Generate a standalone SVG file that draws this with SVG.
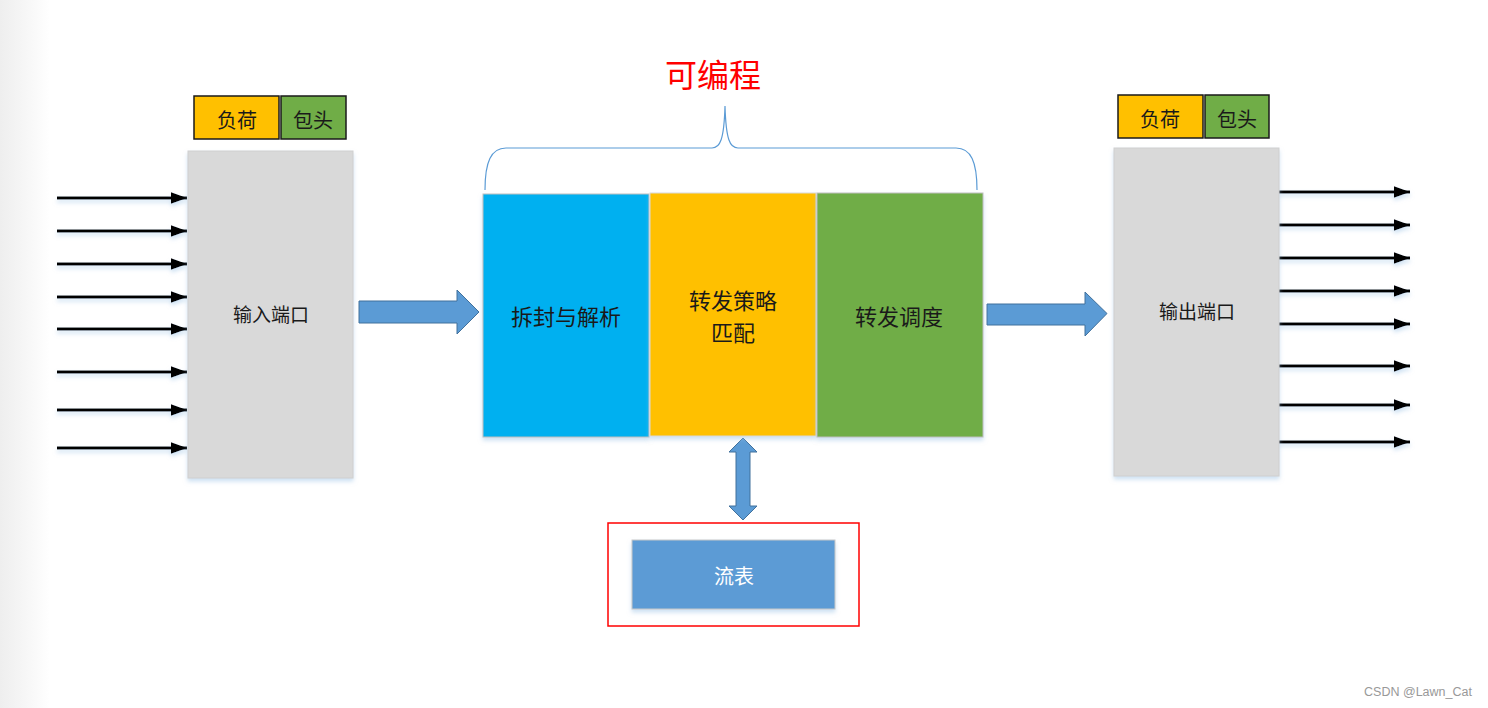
<svg xmlns="http://www.w3.org/2000/svg" width="1488" height="708" viewBox="0 0 1488 708">
<style>
  text { font-family: "Noto Sans CJK SC", "Liberation Sans", sans-serif; text-anchor: middle; dominant-baseline: central; }
  .lbl { font-size: 20px; fill: #1a1a1a; }
  .big { font-size: 22px; fill: #1a1a1a; }
  .port { fill: #d9d9d9; stroke: #cfcfcf; stroke-width: 1; }
  .tag { stroke: #1a1a1a; stroke-width: 1.5; }
  .line { stroke: #000; stroke-width: 3.2; fill: none; marker-end: url(#ah); }
  .blk { fill: #5b9bd5; stroke: #41719c; stroke-width: 1; }
</style>
<defs>
  <linearGradient id="edge" x1="0" y1="0" x2="1" y2="0">
    <stop offset="0" stop-color="#eeeeee"/>
    <stop offset="0.6" stop-color="#f8f8f8"/>
    <stop offset="1" stop-color="#ffffff"/>
  </linearGradient>
  <marker id="ah" viewBox="0 0 10 10" refX="10" refY="5" markerWidth="5" markerHeight="3.6" orient="auto" markerUnits="strokeWidth" preserveAspectRatio="none">
    <path d="M0,0 L10,5 L0,10 z" fill="#000"/>
  </marker>
  <filter id="sh" x="-10%" y="-10%" width="120%" height="130%">
    <feDropShadow dx="0" dy="3" stdDeviation="2" flood-color="#9dc3e6" flood-opacity="0.5"/>
  </filter>
</defs>
<rect x="0" y="0" width="1488" height="708" fill="#fff"/>
<rect x="0" y="0" width="50" height="708" fill="url(#edge)"/>

<g id="connectors">
  <g filter="url(#sh)">
    <line class="line" x1="57" y1="198" x2="187" y2="198"/>
    <line class="line" x1="57" y1="231" x2="187" y2="231"/>
    <line class="line" x1="57" y1="264" x2="187" y2="264"/>
    <line class="line" x1="57" y1="297" x2="187" y2="297"/>
    <line class="line" x1="57" y1="329" x2="187" y2="329"/>
    <line class="line" x1="57" y1="372" x2="187" y2="372"/>
    <line class="line" x1="57" y1="410" x2="187" y2="410"/>
    <line class="line" x1="57" y1="448" x2="187" y2="448"/>
    <line class="line" x1="1279" y1="192" x2="1410" y2="192"/>
    <line class="line" x1="1279" y1="225" x2="1410" y2="225"/>
    <line class="line" x1="1279" y1="258" x2="1410" y2="258"/>
    <line class="line" x1="1279" y1="291" x2="1410" y2="291"/>
    <line class="line" x1="1279" y1="324" x2="1410" y2="324"/>
    <line class="line" x1="1279" y1="366" x2="1410" y2="366"/>
    <line class="line" x1="1279" y1="405" x2="1410" y2="405"/>
    <line class="line" x1="1279" y1="442" x2="1410" y2="442"/>
  </g>
  <path class="blk" d="M359,301 L457,301 L457,290 L479,312 L457,334 L457,323 L359,323 Z"/>
  <path class="blk" d="M987,304 L1085,304 L1085,292 L1107,313.5 L1085,336 L1085,325 L987,325 Z"/>
  <path class="blk" d="M743,438 L757,452 L750,452 L750,506 L757,506 L743,520 L729,506 L736,506 L736,452 L729,452 Z"/>
  <path d="M485,190 C485,162 491,148 506,148 L712,148 C720,148 724,140 725,106 C726,140 730,148 738,148 L956,148 C971,148 977,162 977,190" fill="none" stroke="#5b9bd5" stroke-width="1.2"/>
</g>

<g id="input-tags">
  <rect class="tag" x="194" y="96" width="85" height="43" fill="#ffc000"/>
  <text class="lbl" x="237" y="119">负荷</text>
  <rect class="tag" x="281" y="96" width="65" height="43" fill="#70ad47"/>
  <text class="lbl" x="313" y="119">包头</text>
</g>
<g id="input-port">
  <rect class="port" x="188" y="151" width="165" height="327" filter="url(#sh)"/>
  <text class="lbl" x="271" y="313" style="font-size:19px">输入端口</text>
</g>

<g id="programmable">
  <text x="713" y="73" style="font-size:32px;fill:#ff0000">可编程</text>
</g>

<g id="parse">
  <rect x="483" y="194" width="166" height="243" fill="#00b0f0" stroke="#bfbfbf" stroke-width="1" filter="url(#sh)"/>
  <text class="big" x="566" y="315">拆封与解析</text>
</g>
<g id="match">
  <rect x="650" y="193" width="166" height="243" fill="#ffc000" stroke="#d9d9d9" stroke-width="1" filter="url(#sh)"/>
  <text class="big" x="733" y="299">转发策略</text>
  <text class="big" x="733" y="331">匹配</text>
</g>
<g id="schedule">
  <rect x="817" y="193" width="166" height="244" fill="#70ad47" stroke="#bfbfbf" stroke-width="1" filter="url(#sh)"/>
  <text class="big" x="899" y="315">转发调度</text>
</g>

<g id="output-tags">
  <rect class="tag" x="1118" y="95" width="85" height="43" fill="#ffc000"/>
  <text class="lbl" x="1160" y="118">负荷</text>
  <rect class="tag" x="1205" y="95" width="64" height="43" fill="#70ad47"/>
  <text class="lbl" x="1237" y="118">包头</text>
</g>
<g id="output-port">
  <rect class="port" x="1114" y="148" width="165" height="328" filter="url(#sh)"/>
  <text class="lbl" x="1197" y="310" style="font-size:19px">输出端口</text>
</g>

<g id="flow-table">
  <rect x="608" y="523" width="251" height="103" fill="none" stroke="#ff0000" stroke-width="1.5"/>
  <rect x="632" y="540" width="203" height="69" fill="#5b9bd5" stroke="#c8c8c8" stroke-width="1" filter="url(#sh)"/>
  <text x="734" y="575" style="font-size:20px;fill:#ffffff">流表</text>
</g>

<text x="1418" y="692" style="font-family:'Liberation Sans',sans-serif;font-size:12.5px;fill:#999999">CSDN @Lawn_Cat</text>
</svg>
